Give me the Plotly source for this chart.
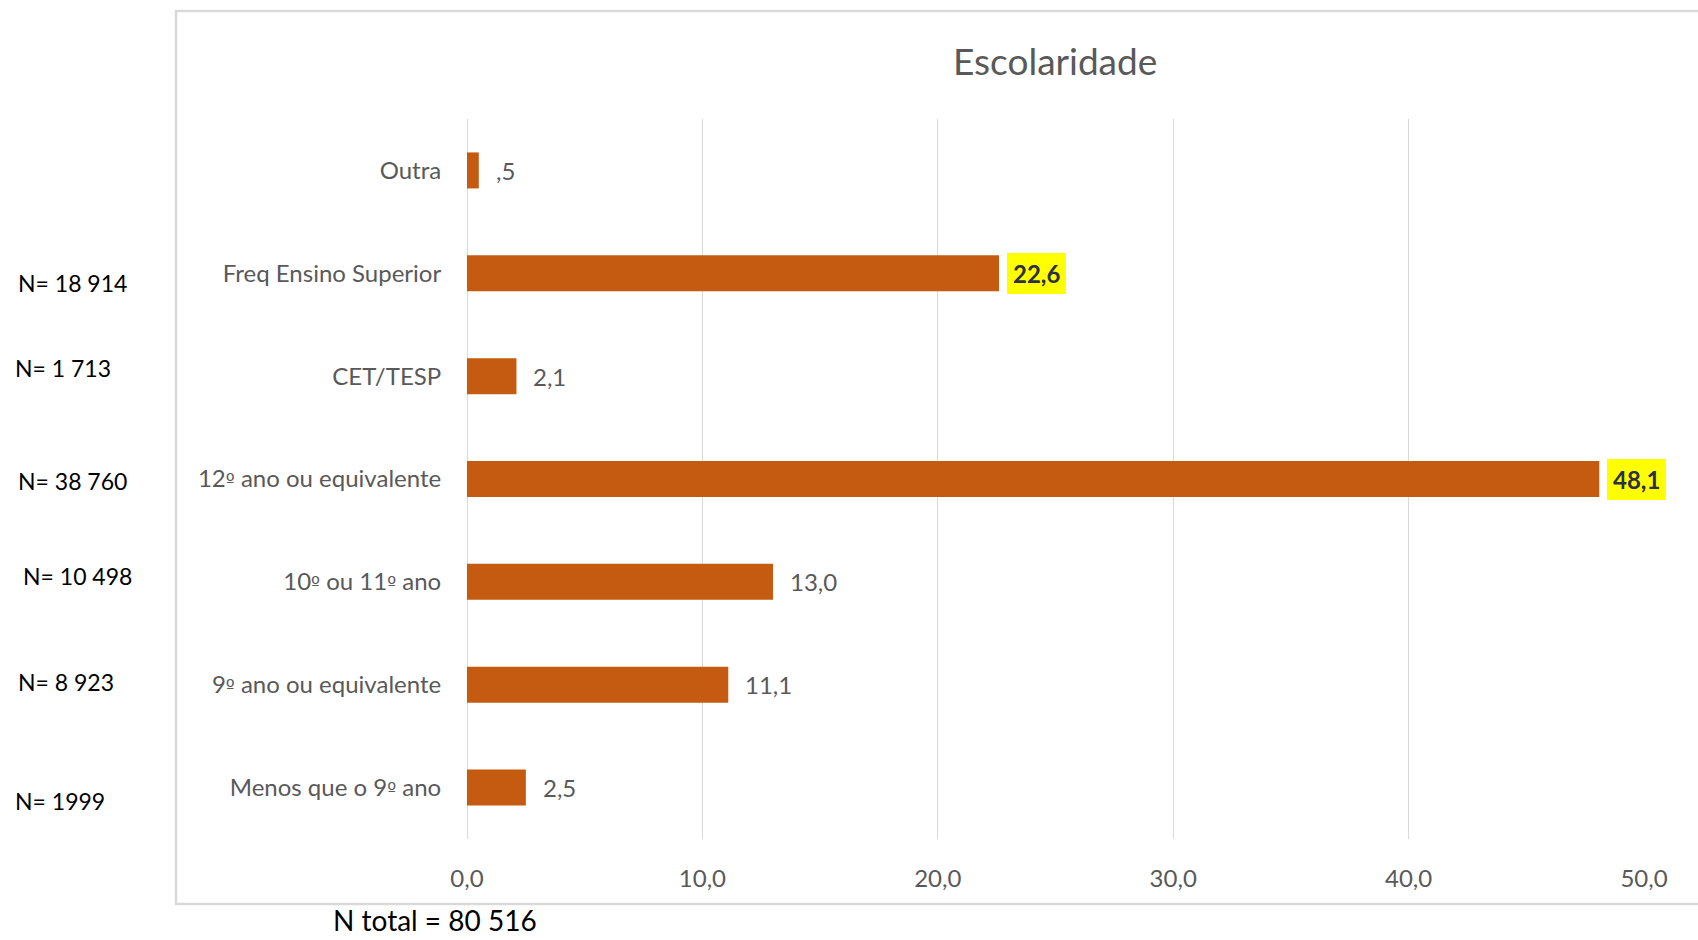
import plotly.graph_objects as go

# ---- data ----
categories = ["Menos que o 9º ano", "9º ano ou equivalente", "10º ou 11º ano",
              "12º ano ou equivalente", "CET/TESP", "Freq Ensino Superior", "Outra"]
percentages = [2.5, 11.1, 13.0, 48.1, 2.1, 22.6, 0.5]
highlighted = ["12º ano ou equivalente", "Freq Ensino Superior"]
n_labels = ["N= 1999", "N= 8 923", "N= 10 498", "N= 38 760", "N= 1 713", "N= 18 914"]
n_label_px = [(13, 801), (16, 682), (21, 576), (16, 481), (13, 368), (16, 283)]
n_total_label = "N total = 80 516"
x_ticks = [0, 10, 20, 30, 40, 50]
title_text = "Escolaridade"

W, H = 1698, 940
L, R, T, B = 467, 54, 119, 101
PW, PH = W - L - R, H - T - B

def px_x(px):
    return (px - L) / PW

def px_y(py):
    return (H - B - py) / PH

def fmt(v):
    s = f"{v:.1f}".replace(".", ",")
    if s.startswith("0,"):
        s = s[1:]
    return s

def tick_text(c):
    return c.replace("º", "<span style='font-family:DejaVu Sans;font-size:19px'>º</span>")

FONT = "Lato"
GRAY = "#595959"
BAR = "#C55A11"

fig = go.Figure()
fig.add_trace(go.Bar(
    y=categories, x=percentages, orientation="h",
    marker=dict(color=BAR, line=dict(width=0)),
    hoverinfo="skip",
))

annotations = []
for c, v in zip(categories, percentages):
    if c in highlighted:
        annotations.append(dict(
            x=v, y=c, xref="x", yref="y", text=f"<b>{fmt(v)}</b>",
            showarrow=False, xanchor="left", yanchor="middle", xshift=8,
            bgcolor="#FFFF00", borderpad=6, borderwidth=0,
            font=dict(family=FONT, size=24, color="#2B3145"),
        ))
    else:
        annotations.append(dict(
            x=v, y=c, xref="x", yref="y", text=fmt(v),
            showarrow=False, xanchor="left", yanchor="middle", xshift=15,
            font=dict(family=FONT, size=24, color=GRAY),
        ))

for t, (px, py) in zip(n_labels, n_label_px):
    annotations.append(dict(
        x=px_x(px), y=px_y(py), xref="paper", yref="paper", text=t,
        showarrow=False, xanchor="left", yanchor="middle",
        font=dict(family=FONT, size=23, color="#000000"),
    ))

annotations.append(dict(
    x=px_x(435), y=px_y(939), xref="paper", yref="paper", text=n_total_label,
    showarrow=False, xanchor="center", yanchor="bottom",
    font=dict(family=FONT, size=28, color="#000000"),
))

annotations.append(dict(
    x=px_x(1055), y=px_y(60), xref="paper", yref="paper", text=title_text,
    showarrow=False, xanchor="center", yanchor="middle",
    font=dict(family=FONT, size=37, color=GRAY),
))

shapes = [dict(
    type="rect", xref="paper", yref="paper",
    x0=px_x(176), x1=px_x(1760), y0=px_y(904), y1=px_y(11),
    line=dict(color="#D9D9D9", width=2.5), fillcolor="rgba(0,0,0,0)", layer="below",
)]

fig.update_layout(
    width=W, height=H,
    margin=dict(l=L, r=R, t=T, b=B, pad=0),
    paper_bgcolor="white", plot_bgcolor="white",
    separators=", ",
    showlegend=False,
    bargap=0.65,
    annotations=annotations,
    shapes=shapes,
    xaxis=dict(
        range=[0, 50], tickvals=x_ticks, tickformat=".1f",
        showgrid=True, gridcolor="#D9D9D9", gridwidth=1.2,
        zeroline=True, zerolinecolor="#D9D9D9", zerolinewidth=1.2,
        showline=False, ticks="outside", ticklen=18, tickcolor="rgba(0,0,0,0)",
        tickfont=dict(family=FONT, size=24, color=GRAY),
        fixedrange=True,
    ),
    yaxis=dict(
        categoryorder="array", categoryarray=categories,
        tickvals=categories, ticktext=[tick_text(c) for c in categories],
        showgrid=False, zeroline=False, showline=False,
        ticks="outside", ticklen=20, tickcolor="rgba(0,0,0,0)",
        tickfont=dict(family=FONT, size=24, color=GRAY),
        fixedrange=True,
    ),
)

fig.write_html(
    "out.html",
    config={"displayModeBar": False},
    post_script="document.body.style.margin='0px';document.body.style.overflow='hidden';",
)
